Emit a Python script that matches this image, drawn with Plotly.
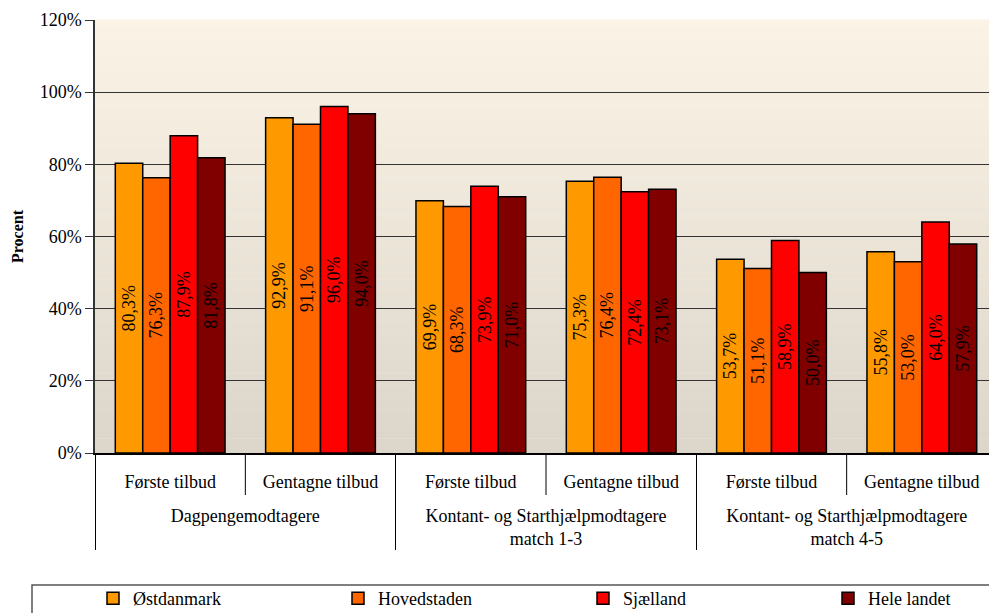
import plotly.graph_objects as go

groups = ["Dagpengemodtagere", "Dagpengemodtagere",
          "Kontant- og Starthjælpmodtagere<br>match 1-3", "Kontant- og Starthjælpmodtagere<br>match 1-3",
          "Kontant- og Starthjælpmodtagere<br>match 4-5", "Kontant- og Starthjælpmodtagere<br>match 4-5"]
subcats = ["Første tilbud<br> ", "Gentagne tilbud<br> "] * 3

series_names = ["Østdanmark", "Hovedstaden", "Sjælland", "Hele landet"]
ostdanmark = [80.3, 92.9, 69.9, 75.3, 53.7, 55.8]
hovedstaden = [76.3, 91.1, 68.3, 76.4, 51.1, 53.0]
sjaelland = [87.9, 96.0, 73.9, 72.4, 58.9, 64.0]
hele_landet = [81.8, 94.0, 71.0, 73.1, 50.0, 57.9]
series_values = [ostdanmark, hovedstaden, sjaelland, hele_landet]
colors = ["#FF9900", "#FF6600", "#FF0000", "#800000"]

y_ticks = [0, 20, 40, 60, 80, 100, 120]
y_ticktext = ["%d%%" % v for v in y_ticks]

FONT = "Liberation Serif"

fig = go.Figure()
for name, vals, col in zip(series_names, series_values, colors):
    fig.add_trace(go.Bar(
        name=name, x=[groups, subcats], y=vals,
        marker=dict(color=col, line=dict(color="black", width=1.5)),
        texttemplate="%{y:.1f}%", textposition="inside", insidetextanchor="middle",
        textangle=-90, constraintext="none",
        textfont=dict(family=FONT, size=18, color="black"),
    ))

PH = 433.0  # plot height px
PW = 902.0  # plot width px

# background gradient bands
shapes = []
N = 60
top = (251, 244, 230)
bot = (220, 213, 202)
for i in range(N):
    t = (i + 0.5) / N
    c = tuple(round(top[k] + (bot[k] - top[k]) * t) for k in range(3))
    shapes.append(dict(type="rect", xref="x domain", yref="y domain",
                       x0=0, x1=1, y0=1 - (i + 1) / N, y1=1 - i / N + 0.001,
                       fillcolor="rgb(%d,%d,%d)" % c, line=dict(width=0), layer="below"))
# inner category separators
for b in [0.5, 2.5, 4.5]:
    shapes.append(dict(type="line", xref="x", yref="paper", x0=b, x1=b, y0=0, y1=-42 / PH,
                       line=dict(color="black", width=1)))
# legend frame
shapes.append(dict(type="rect", xref="paper", yref="paper",
                   x0=-63 / PW, x1=1.01, y0=(453 - 585) / PH, y1=(453 - 630) / PH,
                   line=dict(color="#555", width=1.5), fillcolor="white", layer="below"))

# page body has an 8px margin: figure is sized so the plot lands where the reference has it
fig.update_layout(
    width=989, height=605,
    margin=dict(l=87, r=0, t=12, b=160, autoexpand=False),
    paper_bgcolor="white", plot_bgcolor="rgba(0,0,0,0)",
    separators=",.",
    barmode="group", bargap=0.27, bargroupgap=0,
    font=dict(family=FONT, size=18, color="black"),
    shapes=shapes,
    showlegend=True,
    legend=dict(orientation="h", x=-2 / PW, xanchor="left", y=(453 - 580) / PH, yanchor="top",
                entrywidth=200, font=dict(size=18, family=FONT), bgcolor="rgba(0,0,0,0)",
                borderwidth=0, traceorder="normal"),
)
fig.update_xaxes(type="multicategory", showline=True, linecolor="black", linewidth=1.5,
                 showdividers=True, dividercolor="black", dividerwidth=1,
                 tickfont=dict(family=FONT, size=18, color="black"),
                 ticks="", ticklabelstandoff=12)
fig.update_yaxes(range=[0, 120], tickmode="array", tickvals=y_ticks, ticktext=y_ticktext,
                 showgrid=True, gridcolor="#333", gridwidth=1,
                 showline=True, linecolor="#333", linewidth=1.5,
                 ticks="outside", ticklen=8, tickcolor="#333",
                 tickfont=dict(family=FONT, size=18, color="black"),
                 title=dict(text="<b>Procent</b>", font=dict(family=FONT, size=16), standoff=12),
                 zeroline=False)

fig.write_html("out.html")
